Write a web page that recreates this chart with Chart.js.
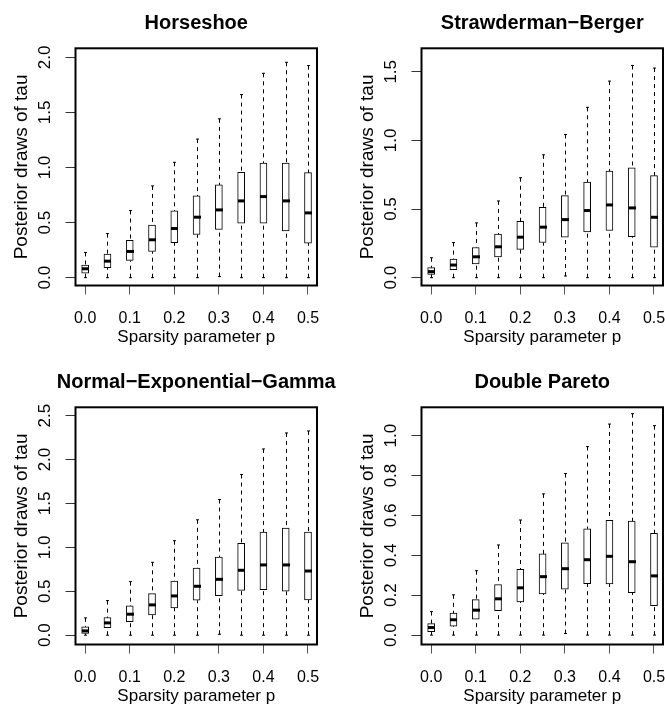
<!DOCTYPE html>
<html>
<head>
<meta charset="utf-8">
<title>Posterior draws of tau</title>
<script src="https://cdn.jsdelivr.net/npm/chart.js@4.4.0/dist/chart.umd.min.js"></script>
<style>
  html, body { margin: 0; padding: 0; background: #fff; }
  #page { position: relative; width: 665px; height: 709px; overflow: hidden; }
  #page canvas { position: absolute; }
</style>
</head>
<body>
<div id="page">
  <canvas id="hs" width="332" height="350" style="left:0;top:0"></canvas>
  <canvas id="sb" width="333" height="350" style="left:332px;top:0"></canvas>
  <canvas id="dp" width="333" height="350" style="left:332px;top:359px"></canvas>
  <canvas id="neg" width="345" height="350" style="left:0;top:359px"></canvas>
</div>
<script>
// ----- data -----
const pValues = [0, 0.05, 0.1, 0.15, 0.2, 0.25, 0.3, 0.35, 0.4, 0.45, 0.5];
const xTickValues = [0, 0.1, 0.2, 0.3, 0.4, 0.5];
const xTickLabels = ['0.0', '0.1', '0.2', '0.3', '0.4', '0.5'];

// Horseshoe
const hsLow  = [0, 0, 0, 0, 0, 0, 0.01, 0, 0, 0, 0];
const hsQ1   = [0.04, 0.09, 0.157, 0.238, 0.317, 0.392, 0.437, 0.495, 0.495, 0.425, 0.314];
const hsMed  = [0.081, 0.15, 0.238, 0.344, 0.446, 0.549, 0.615, 0.697, 0.736, 0.697, 0.588];
const hsQ3   = [0.115, 0.214, 0.338, 0.477, 0.606, 0.742, 0.842, 0.956, 1.04, 1.04, 0.953];
const hsHigh = [0.229, 0.40, 0.61, 0.833, 1.047, 1.258, 1.442, 1.662, 1.855, 1.955, 1.925];
const hsTicks = [0, 0.5, 1, 1.5, 2];
const hsTickLabels = ['0.0', '0.5', '1.0', '1.5', '2.0'];

// Strawderman-Berger
const sbLow  = [0, 0, 0, 0, 0, 0, 0.012, 0, 0, 0, 0];
const sbQ1   = [0.024, 0.058, 0.10, 0.152, 0.206, 0.256, 0.295, 0.334, 0.344, 0.298, 0.223];
const sbMed  = [0.044, 0.092, 0.152, 0.225, 0.295, 0.368, 0.423, 0.489, 0.53, 0.508, 0.44];
const sbQ3   = [0.073, 0.135, 0.22, 0.317, 0.411, 0.513, 0.598, 0.697, 0.777, 0.801, 0.743];
const sbHigh = [0.145, 0.256, 0.399, 0.559, 0.728, 0.895, 1.043, 1.241, 1.432, 1.546, 1.527];
const sbTicks = [0, 0.5, 1, 1.5];
const sbTickLabels = ['0.0', '0.5', '1.0', '1.5'];

// Normal-Exponential-Gamma
const negLow  = [0, 0, 0, 0, 0, 0, 0.01, 0, 0, 0, 0];
const negQ1   = [0.019, 0.087, 0.155, 0.231, 0.311, 0.398, 0.451, 0.511, 0.519, 0.5, 0.402];
const negMed  = [0.049, 0.14, 0.239, 0.345, 0.447, 0.557, 0.636, 0.739, 0.8, 0.8, 0.731];
const negQ3   = [0.095, 0.201, 0.333, 0.473, 0.617, 0.765, 0.89, 1.045, 1.174, 1.22, 1.174];
const negHigh = [0.197, 0.394, 0.61, 0.83, 1.076, 1.314, 1.545, 1.83, 2.121, 2.303, 2.326];
const negTicks = [0, 0.5, 1, 1.5, 2, 2.5];
const negTickLabels = ['0.0', '0.5', '1.0', '1.5', '2.0', '2.5'];

// Double Pareto
const dpLow  = [0, 0, 0, 0, 0, 0, 0.008, 0, 0, 0, 0];
const dpQ1   = [0.017, 0.045, 0.08, 0.123, 0.167, 0.207, 0.23, 0.258, 0.257, 0.213, 0.148];
const dpMed  = [0.038, 0.077, 0.125, 0.182, 0.237, 0.293, 0.333, 0.378, 0.395, 0.368, 0.297];
const dpQ3   = [0.058, 0.11, 0.178, 0.253, 0.33, 0.407, 0.463, 0.533, 0.575, 0.572, 0.51];
const dpHigh = [0.118, 0.202, 0.323, 0.452, 0.577, 0.708, 0.81, 0.945, 1.058, 1.11, 1.05];
const dpTicks = [0, 0.2, 0.4, 0.6, 0.8, 1.0];
const dpTickLabels = ['0.0', '0.2', '0.4', '0.6', '0.8', '1.0'];

const fontFamily = '"Liberation Sans", Arial, Helvetica, sans-serif';
Chart.defaults.font.family = fontFamily;
Chart.defaults.color = '#000';

// whiskers, staples, medians, plot frame and panel title (R style)
const boxExtras = {
  id: 'boxExtras',
  afterDatasetsDraw(chart, args, opts) {
    const ds = chart.data.datasets[0];
    const xs = chart.scales.x, ys = chart.scales.y;
    const ctx = chart.ctx;
    const line = (x1, y1, x2, y2) => { ctx.beginPath(); ctx.moveTo(x1, y1); ctx.lineTo(x2, y2); ctx.stroke(); };
    ctx.save();
    ctx.strokeStyle = '#000';
    ds.data.forEach((d, i) => {
      const x = Math.round(xs.getPixelForValue(d.x)) + 0.5;
      const yLo = ys.getPixelForValue(ds.low[i]);
      const yHi = ys.getPixelForValue(ds.high[i]);
      const yQ1 = ys.getPixelForValue(d.y[0]);
      const yQ3 = ys.getPixelForValue(d.y[1]);
      const yMed = ys.getPixelForValue(ds.med[i]);
      ctx.lineWidth = 1;
      ctx.setLineDash([4, 4]);
      line(x, yHi, x, yQ3);
      line(x, yLo, x, yQ1);
      ctx.setLineDash([]);
      line(x - 1.5, yHi, x + 1.5, yHi);
      line(x - 1.5, yLo, x + 1.5, yLo);
      ctx.lineWidth = 3;
      line(x - 3.5, yMed, x + 3.5, yMed);
    });
    const a = chart.chartArea;
    ctx.lineWidth = 2;
    ctx.strokeRect(a.left, a.top, a.right - a.left, a.bottom - a.top);
    // main title, centred over the plot region like R's title()
    ctx.fillStyle = '#000';
    ctx.font = 'bold 20px ' + fontFamily;
    ctx.textAlign = 'center';
    ctx.textBaseline = 'middle';
    ctx.fillText(opts.text, (a.left + a.right) / 2, 23);
    ctx.restore();
  }
};

function makePanel(id, title, low, q1, med, q3, high, yTicks, yLabels, yMin, yMax, padLeft, padRight) {
  new Chart(document.getElementById(id), {
    type: 'bar',
    data: {
      datasets: [{
        data: pValues.map((p, i) => ({ x: p, y: [q1[i], q3[i]] })),
        low, med, high,
        backgroundColor: '#fff',
        borderColor: '#000',
        borderWidth: 1,
        borderSkipped: false,
        barThickness: 7
      }]
    },
    options: {
      responsive: false,
      animation: false,
      events: [],
      layout: { padding: { left: padLeft, right: padRight, top: 48.3, bottom: 0 } },
      plugins: {
        legend: { display: false },
        tooltip: { enabled: false },
        title: { display: false },
        boxExtras: { text: title }
      },
      scales: {
        x: {
          type: 'linear', min: -0.0217, max: 0.5202, offset: false,
          afterBuildTicks: s => { s.ticks = xTickValues.map(v => ({ value: v })); },
          afterFit: s => { s.height = 64.5; s.paddingLeft = 0; s.paddingRight = 0; },
          border: { display: false },
          grid: { drawOnChartArea: false, drawTicks: true, tickLength: 9, color: '#555', offset: false },
          ticks: { autoSkip: false, maxRotation: 0, padding: 14, font: { size: 16 }, callback: (v, i) => xTickLabels[i] },
          title: { display: true, text: 'Sparsity parameter p', font: { size: 17 }, padding: { top: 0, bottom: 2.8 } }
        },
        y: {
          type: 'linear', min: yMin, max: yMax,
          afterBuildTicks: s => { s.ticks = yTicks.map(v => ({ value: v })); },
          afterFit: s => { s.width = 75.5; s.paddingTop = 0; s.paddingBottom = 0; },
          border: { display: false },
          grid: { drawOnChartArea: false, drawTicks: true, tickLength: 10, color: '#333' },
          ticks: { autoSkip: false, minRotation: 90, maxRotation: 90, crossAlign: 'center', padding: 8.5, font: { size: 17 }, callback: (v, i) => yLabels[i] },
          title: { display: true, text: 'Posterior draws of tau', font: { size: 19 }, padding: { top: 10.6, bottom: 0 } }
        }
      }
    },
    plugins: [boxExtras]
  });
}

makePanel('hs', 'Horseshoe', hsLow, hsQ1, hsMed, hsQ3, hsHigh, hsTicks, hsTickLabels, -0.071, 2.082, 0, 15);
makePanel('sb', 'Strawderman\u2212Berger', sbLow, sbQ1, sbMed, sbQ3, sbHigh, sbTicks, sbTickLabels, -0.057, 1.671, 14, 2);
makePanel('dp', 'Double Pareto', dpLow, dpQ1, dpMed, dpQ3, dpHigh, dpTicks, dpTickLabels, -0.047, 1.142, 14, 2);
// wider canvas so the long title may run past the panel edge, as in the figure
makePanel('neg', 'Normal\u2212Exponential\u2212Gamma', negLow, negQ1, negMed, negQ3, negHigh, negTicks, negTickLabels, -0.106, 2.595, 0, 28);
</script>
</body>
</html>
